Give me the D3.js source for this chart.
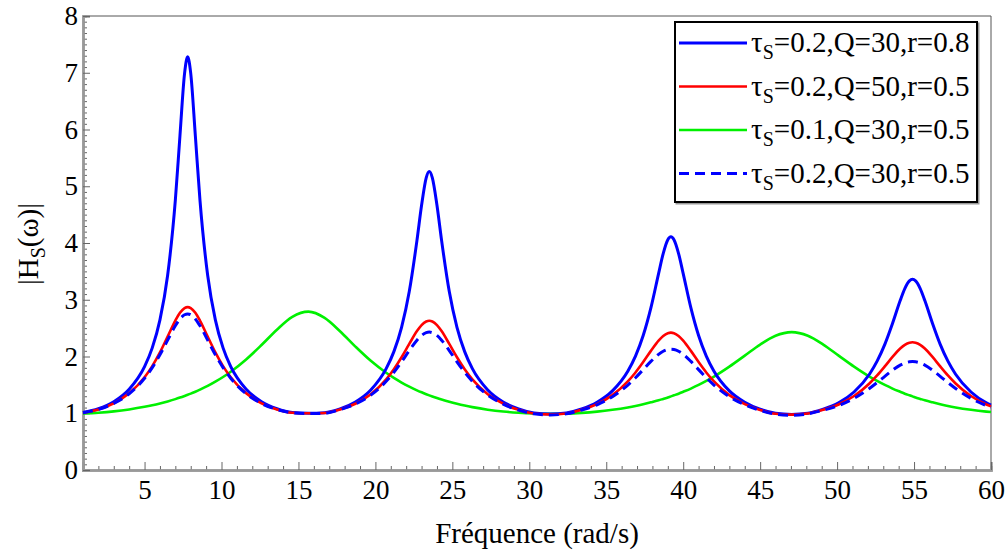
<!DOCTYPE html>
<html>
<head>
<meta charset="utf-8">
<script src="https://cdn.jsdelivr.net/npm/d3@7"></script>
<style>
  body { margin: 0; background: #fff; }
</style>
</head>
<body>
<div id="chart"></div>
<script>
// frequency samples (rad/s), denser around the peaks
const freq = [1, 2, 3, 4, 5, 5.5, 6, 6.5, 7, 7.3, 7.6, 7.8, 8, 8.3, 8.6, 9.1, 9.6, 10.1, 10.6, 11.6, 12.6, 13.6, 14.6, 15.65,
  16.7, 17.7, 18.7, 19.7, 20.7, 21.2, 21.7, 22.2, 22.7, 23, 23.3, 23.5, 23.7, 24, 24.3, 24.8, 25.3, 25.8, 26.3, 27.3, 28.3, 29.3, 30.3, 31.35,
  32.4, 33.4, 34.4, 35.4, 36.4, 36.9, 37.4, 37.9, 38.4, 38.7, 39, 39.2, 39.4, 39.7, 40, 40.5, 41, 41.5, 42, 43, 44, 45, 46, 47.05,
  48.1, 49.1, 50.1, 51.1, 52.1, 52.6, 53.1, 53.6, 54.1, 54.4, 54.7, 54.9, 55.1, 55.4, 55.7, 56.2, 56.7, 57.2, 57.7, 58.7, 59.7, 60]

// tau=0.2, Q=30, r=0.8
const blueR08 = [1.013, 1.079, 1.204, 1.424, 1.822, 2.152, 2.645, 3.431, 4.755, 5.890, 6.99, 7.28, 6.99, 5.890, 4.755, 3.431, 2.645, 2.152, 1.822, 1.424, 1.204, 1.079, 1.013, 1.0,
  1.010, 1.077, 1.199, 1.410, 1.786, 2.086, 2.514, 3.144, 4.046, 4.665, 5.149, 5.26, 5.149, 4.665, 4.046, 3.144, 2.514, 2.086, 1.786, 1.410, 1.199, 1.077, 1.005, 0.985,
  1.005, 1.075, 1.193, 1.394, 1.741, 2.007, 2.369, 2.856, 3.460, 3.814, 4.058, 4.11, 4.058, 3.814, 3.460, 2.856, 2.369, 2.007, 1.741, 1.394, 1.193, 1.070, 1.0, 0.98,
  1.0, 1.072, 1.184, 1.374, 1.688, 1.918, 2.214, 2.582, 2.986, 3.197, 3.332, 3.36, 3.332, 3.197, 2.986, 2.582, 2.214, 1.918, 1.688, 1.374, 1.184, 1.144]

// tau=0.2, Q=50, r=0.5
const redQ50 = [1.010, 1.068, 1.175, 1.351, 1.633, 1.830, 2.072, 2.352, 2.633, 2.770, 2.853, 2.87, 2.853, 2.770, 2.633, 2.352, 2.072, 1.830, 1.633, 1.351, 1.175, 1.068, 1.010, 1.0,
  1.005, 1.066, 1.168, 1.336, 1.598, 1.776, 1.987, 2.222, 2.448, 2.554, 2.617, 2.63, 2.617, 2.554, 2.448, 2.222, 1.987, 1.776, 1.598, 1.336, 1.168, 1.060, 0.995, 0.98,
  0.995, 1.063, 1.161, 1.319, 1.560, 1.719, 1.902, 2.099, 2.280, 2.362, 2.410, 2.42, 2.410, 2.362, 2.280, 2.099, 1.902, 1.719, 1.560, 1.319, 1.161, 1.058, 0.99, 0.975,
  0.995, 1.060, 1.154, 1.304, 1.525, 1.667, 1.826, 1.992, 2.140, 2.205, 2.243, 2.25, 2.243, 2.205, 2.140, 1.992, 1.826, 1.667, 1.525, 1.304, 1.154, 1.121]

// tau=0.1, Q=30, r=0.5
const greenT01 = [0.995, 1.010, 1.033, 1.067, 1.113, 1.141, 1.173, 1.209, 1.249, 1.276, 1.305, 1.325, 1.346, 1.380, 1.416, 1.482, 1.557, 1.639, 1.732, 1.948, 2.202, 2.472, 2.698, 2.79,
  2.680, 2.445, 2.175, 1.924, 1.713, 1.622, 1.541, 1.469, 1.404, 1.369, 1.336, 1.315, 1.295, 1.267, 1.241, 1.201, 1.166, 1.135, 1.108, 1.063, 1.030, 1.008, 0.995, 0.99,
  0.994, 1.007, 1.029, 1.061, 1.103, 1.129, 1.159, 1.192, 1.228, 1.253, 1.278, 1.297, 1.316, 1.345, 1.378, 1.435, 1.499, 1.570, 1.646, 1.821, 2.015, 2.210, 2.366, 2.43,
  2.366, 2.210, 2.015, 1.821, 1.646, 1.570, 1.499, 1.435, 1.378, 1.345, 1.316, 1.297, 1.278, 1.253, 1.228, 1.192, 1.159, 1.129, 1.103, 1.061, 1.029, 1.021]

// tau=0.2, Q=30, r=0.5 (dashed)
const blueR05 = [1.009, 1.067, 1.172, 1.344, 1.616, 1.804, 2.031, 2.288, 2.542, 2.662, 2.735, 2.75, 2.735, 2.662, 2.542, 2.288, 2.031, 1.804, 1.616, 1.344, 1.172, 1.067, 1.009, 0.995,
  1.0, 1.063, 1.162, 1.320, 1.562, 1.722, 1.907, 2.105, 2.288, 2.371, 2.420, 2.43, 2.420, 2.371, 2.288, 2.105, 1.907, 1.722, 1.562, 1.320, 1.162, 1.055, 0.99, 0.97,
  0.99, 1.058, 1.149, 1.291, 1.497, 1.626, 1.769, 1.913, 2.038, 2.093, 2.124, 2.13, 2.124, 2.093, 2.038, 1.913, 1.769, 1.626, 1.497, 1.291, 1.149, 1.050, 0.985, 0.965,
  0.99, 1.054, 1.136, 1.262, 1.437, 1.541, 1.651, 1.758, 1.847, 1.885, 1.906, 1.91, 1.906, 1.885, 1.847, 1.758, 1.651, 1.541, 1.437, 1.262, 1.136, 1.107]

const xMajor = [5, 10, 15, 20, 25, 30, 35, 40, 45, 50, 55, 60]
const xMinor = [2, 3, 4, 6, 7, 8, 9, 11, 12, 13, 14, 16, 17, 18, 19, 21, 22, 23, 24, 26, 27, 28, 29, 31, 32, 33, 34,
  36, 37, 38, 39, 41, 42, 43, 44, 46, 47, 48, 49, 51, 52, 53, 54, 56, 57, 58, 59]
const yMajor = [0, 1, 2, 3, 4, 5, 6, 7, 8]

const legendLabels = [
  {tau: "0.2", rest: "=0.2,Q=30,r=0.8"},
  {tau: "0.2", rest: "=0.2,Q=50,r=0.5"},
  {tau: "0.1", rest: "=0.1,Q=30,r=0.5"},
  {tau: "0.2", rest: "=0.2,Q=30,r=0.5"}
]

const FONT = "'Liberation Serif', 'DejaVu Serif', serif"
const width = 1007, height = 555
const margin = {top: 16, right: 16, bottom: 85, left: 83}

const svg = d3.select("#chart")
    .append("svg")
    .attr("width", width)
    .attr("height", height)
    .style("font-family", FONT)

const x = d3.scaleLinear().domain([1, 60]).range([margin.left, width - margin.right])
const y = d3.scaleLinear().domain([0, 8]).range([height - margin.bottom, margin.top])

// minor ticks of y: every 0.1
let yMinor = []
for (let i = 0; i <= 80; i++) { if (i % 10 !== 0) yMinor.push(i / 10) }

// frame top and right
svg.append("line")
    .attr("x1", x(1)).attr("x2", x(60)).attr("y1", y(8)).attr("y2", y(8))
    .attr("stroke", "#555").attr("stroke-width", 1)
svg.append("line")
    .attr("x1", x(60)).attr("x2", x(60)).attr("y1", y(8)).attr("y2", y(0))
    .attr("stroke", "#555").attr("stroke-width", 1)

// x axis, ticks pointing inside
svg.append("g")
    .attr("transform", "translate(0," + y(0) + ")")
    .call(d3.axisBottom(x).tickValues(xMinor).tickSize(-4).tickFormat(""))
const gx = svg.append("g")
    .attr("transform", "translate(0," + y(0) + ")")
    .call(d3.axisBottom(x).tickValues(xMajor).tickSize(-8).tickPadding(6))
gx.selectAll("text").attr("dy", "0.85em")

svg.append("g")
    .attr("transform", "translate(" + x(1) + ",0)")
    .call(d3.axisLeft(y).tickValues(yMinor).tickSize(-4).tickFormat(""))
const gy = svg.append("g")
    .attr("transform", "translate(" + x(1) + ",0)")
    .call(d3.axisLeft(y).tickValues(yMajor).tickSize(-7).tickPadding(5))

svg.selectAll("g")
    .attr("font-family", FONT)
    .attr("font-size", 27)
svg.selectAll(".tick text").attr("fill", "#000")
svg.selectAll(".tick line").attr("stroke", "#666")
svg.selectAll(".domain").attr("stroke", "#999").attr("stroke-width", 2.5)

// curves
const series = [
  {values: greenT01, color: "#00f000", width: 2.6, dash: null},
  {values: blueR08, color: "#0000ff", width: 3, dash: null},
  {values: redQ50, color: "#ff0000", width: 2.6, dash: null},
  {values: blueR05, color: "#0000ff", width: 3, dash: "10,6"}
]

const line = d3.line()
    .x((d, i) => x(freq[i]))
    .y(d => y(d))
    .curve(d3.curveMonotoneX)

svg.append("g")
    .selectAll("path")
    .data(series)
    .enter()
    .append("path")
    .attr("d", d => line(d.values))
    .attr("fill", "none")
    .attr("stroke", d => d.color)
    .attr("stroke-width", d => d.width)
    .attr("stroke-dasharray", d => d.dash)
    .attr("stroke-linejoin", "round")

// axis titles
svg.append("text")
    .attr("x", (x(1) + x(60)) / 2)
    .attr("y", 543)
    .attr("text-anchor", "middle")
    .attr("font-family", FONT)
    .attr("font-size", 29)
    .text("Fréquence (rad/s)")

const yt = svg.append("text")
    .attr("transform", "translate(38," + (y(4) + 1) + ") rotate(-90)")
    .attr("text-anchor", "middle")
    .attr("font-family", FONT)
    .attr("font-size", 29)
yt.append("tspan").text("|H")
yt.append("tspan").attr("font-size", 20).attr("dy", 7).text("S")
yt.append("tspan").attr("dy", -7).text("(ω)|")

// legend
const legendColors = [series[1], series[2], series[0], series[3]]
const lg = svg.append("g").attr("transform", "translate(675,22)")
lg.append("rect").attr("x", 1.5).attr("y", 1.5).attr("width", 302).attr("height", 180)
    .attr("fill", "none").attr("stroke", "#999").attr("stroke-width", 2)
lg.append("rect").attr("width", 302).attr("height", 180)
    .attr("fill", "#fff").attr("stroke", "#000").attr("stroke-width", 2)

const rows = lg.selectAll("g.row")
    .data(legendLabels)
    .enter()
    .append("g")
    .attr("class", "row")
    .attr("transform", (d, i) => "translate(0," + (21 + i * 43.5) + ")")

rows.append("line")
    .attr("x1", 4).attr("x2", 72).attr("y1", 0).attr("y2", 0)
    .attr("stroke", (d, i) => legendColors[i].color)
    .attr("stroke-width", (d, i) => legendColors[i].width)
    .attr("stroke-dasharray", (d, i) => legendColors[i].dash)

const lt = rows.append("text")
    .attr("x", 76)
    .attr("y", 9)
    .attr("font-family", FONT)
    .attr("font-size", 29)
lt.append("tspan").text("τ")
lt.append("tspan").attr("font-size", 20).attr("dy", 7).text("S")
lt.append("tspan").attr("dy", -7).text(d => d.rest)
</script>
</body>
</html>
